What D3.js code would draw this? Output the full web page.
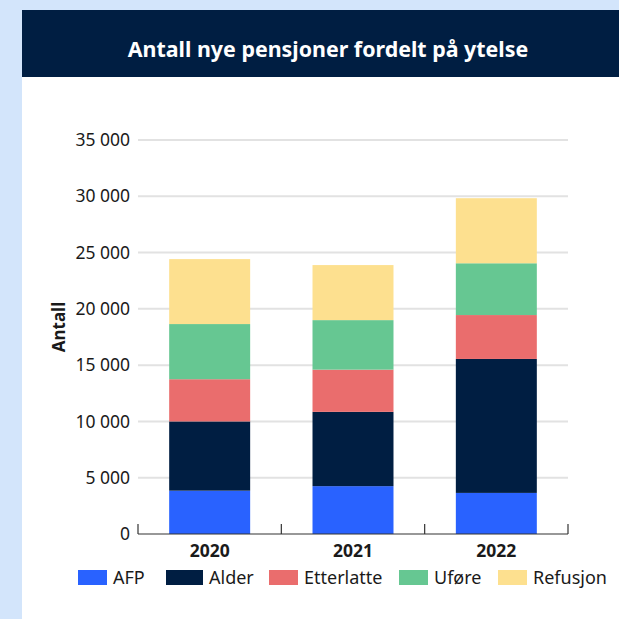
<!DOCTYPE html>
<html>
<head>
<meta charset="utf-8">
<script src="https://cdn.jsdelivr.net/npm/d3@7"></script>
<style>
  html, body { margin: 0; padding: 0; background: #d3e5fb; }
  svg { display: block; font-family: "Noto Sans", sans-serif; }
</style>
</head>
<body>
<div id="chart"></div>
<script>
var years = ["2020", "2021", "2022"];
var seriesNames = ["AFP", "Alder", "Etterlatte", "Uføre", "Refusjon"];
var afp        = [3850, 4250, 3650];
var alder      = [6150, 6600, 11900];
var etterlatte = [3750, 3750, 3900];
var ufore      = [4900, 4400, 4600];
var refusjon   = [5770, 4890, 5780];
var yTicks = [0, 5000, 10000, 15000, 20000, 25000, 30000, 35000];
var colors = ["#2962ff", "#001e42", "#ea6d6d", "#66c792", "#fde08f"];

var W = 619, H = 619;
var svg = d3.select("#chart").append("svg")
    .attr("width", W).attr("height", H);

// white card + header
svg.append("rect").attr("x", 22).attr("y", 10).attr("width", W - 22).attr("height", H - 10).attr("fill", "#fff");
svg.append("rect").attr("x", 22).attr("y", 10).attr("width", W - 22).attr("height", 67).attr("fill", "#001e42");
svg.append("text")
    .attr("x", 328).attr("y", 57)
    .attr("text-anchor", "middle")
    .attr("fill", "#fff")
    .attr("font-size", 21.4)
    .attr("font-weight", 700)
    .text("Antall nye pensjoner fordelt på ytelse");

var margin = {top: 140, left: 138},
    width = 568 - 138,
    height = 534 - 140;

var g = svg.append("g").attr("transform", "translate(" + margin.left + "," + margin.top + ")");

var rows = years.map(function(y, i) {
  return {year: y, "AFP": afp[i], "Alder": alder[i], "Etterlatte": etterlatte[i], "Uføre": ufore[i], "Refusjon": refusjon[i]};
});
var stacked = d3.stack().keys(seriesNames)(rows);

var x = d3.scaleBand().domain(years).range([0, width]).paddingInner(0.435).paddingOuter(0.2175);
var y = d3.scaleLinear().domain([0, 35000]).range([height, 0]);

// gridlines
g.append("g").selectAll("line")
  .data(yTicks.slice(1))
  .enter().append("line")
    .attr("x1", 0).attr("x2", width)
    .attr("y1", function(d) { return y(d); }).attr("y2", function(d) { return y(d); })
    .attr("stroke", "#e2e2e2").attr("stroke-width", 2);

// y labels, space as thousands separator
g.append("g").selectAll("text")
  .data(yTicks)
  .enter().append("text")
    .attr("x", -8)
    .attr("y", function(d) { return y(d); })
    .attr("dy", "0.35em")
    .attr("text-anchor", "end")
    .attr("font-size", 17.5)
    .attr("fill", "#1a1a1a")
    .text(function(d) { return d3.format(",")(d).replace(/,/g, " "); });

// bars
g.append("g").selectAll("g")
  .data(stacked)
  .enter().append("g")
    .attr("fill", function(d, i) { return colors[i]; })
  .selectAll("rect")
  .data(function(d) { return d; })
  .enter().append("rect")
    .attr("x", function(d) { return x(d.data.year); })
    .attr("y", function(d) { return y(d[1]); })
    .attr("height", function(d) { return y(d[0]) - y(d[1]); })
    .attr("width", x.bandwidth());

// x axis: baseline with upward ticks at band edges
var edges = [0].concat(years.map(function(d) { return x(d) + x.bandwidth() + x.step() * x.paddingInner() / 2; }));
edges[edges.length - 1] = width;
var ax = g.append("g").attr("transform", "translate(0," + height + ")");
ax.append("line").attr("x1", 0).attr("x2", width).attr("stroke", "#333").attr("stroke-width", 1.2);
ax.selectAll(".tk").data(edges).enter().append("line")
    .attr("x1", function(d) { return d; }).attr("x2", function(d) { return d; })
    .attr("y1", 0).attr("y2", -10)
    .attr("stroke", "#333").attr("stroke-width", 1.2);
ax.selectAll(".lbl").data(years).enter().append("text")
    .attr("x", function(d) { return x(d) + x.bandwidth() / 2; })
    .attr("y", 23)
    .attr("text-anchor", "middle")
    .attr("font-size", 17.5)
    .attr("font-weight", 700)
    .attr("fill", "#1a1a1a")
    .text(function(d) { return d; });

// y title
svg.append("text")
    .attr("transform", "translate(65,327) rotate(-90)")
    .attr("text-anchor", "middle")
    .attr("font-size", 17)
    .attr("font-weight", 700)
    .attr("fill", "#1a1a1a")
    .text("Antall");

// legend
var legendX = [78, 166, 269, 399, 498];
var legend = svg.append("g").attr("transform", "translate(0,570)");
seriesNames.forEach(function(name, i) {
  var sw = name === "Alder" ? 37 : 29;
  var item = legend.append("g").attr("transform", "translate(" + legendX[i] + ",0)");
  item.append("rect").attr("width", sw).attr("height", 15).attr("fill", colors[i]);
  item.append("text")
      .attr("x", sw + 6).attr("y", 7.5).attr("dy", "0.36em")
      .attr("font-size", 18).attr("fill", "#1a1a1a")
      .text(name);
});
</script>
</body>
</html>
